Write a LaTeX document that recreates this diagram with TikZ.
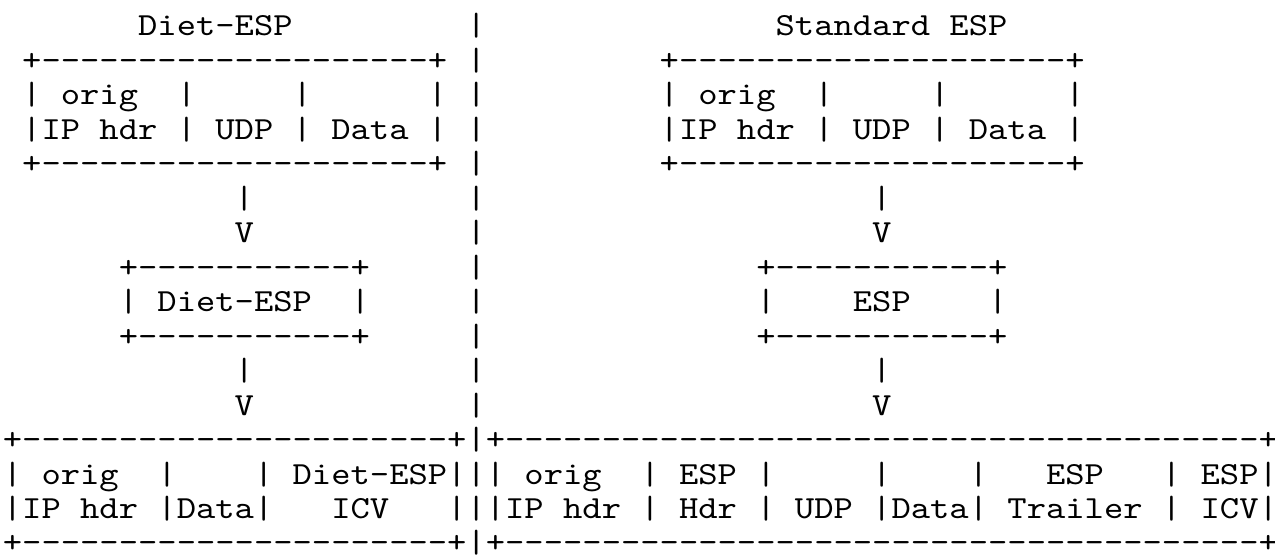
\documentclass[tikz,border=0pt]{standalone}
\usepackage{graphicx}
\ExplSyntaxOn
\cs_new:Npn \Rp #1#2 { \prg_replicate:nn {#1} {#2} }
\ExplSyntaxOff
\newcommand\Sp[1]{\Rp{#1}{~}}
\newcommand\Ds[1]{\Rp{#1}{-\kern0pt}}
\newcommand\Ln[1]{\scalebox{1.142857}[1]{#1}}
\tikzset{
  asciiline/.style={anchor=base west, inner sep=0pt, outer sep=0pt,
    font=\ttfamily\fontsize{10}{10.72}\selectfont, text=black}
}
\begin{document}
\begin{tikzpicture}
\useasboundingbox (0,0) rectangle (396pt,-172.07pt);
\fill[white] (0,0) rectangle (396pt,-172.07pt);
% row baselines: 11.03pt + (k-1)*10.72pt ; one character = 6pt
\node[asciiline] (r1)  at (0.9pt,-11.03pt)  {\Ln{\Sp{7}Diet\kern0pt-ESP\Sp{9}|\Sp{15}Standard~ESP}};
\node[asciiline] (r2)  at (0.9pt,-21.75pt)  {\Ln{~+\Ds{20}+~|\Sp{9}+\Ds{20}+}};
\node[asciiline] (r3)  at (0.9pt,-32.47pt)  {\Ln{~|~orig~~|\Sp{5}|\Sp{6}|~|\Sp{9}|~orig~~|\Sp{5}|\Sp{6}|}};
\node[asciiline] (r4)  at (0.9pt,-43.19pt)  {\Ln{~|IP~hdr~|~UDP~|~Data~|~|\Sp{9}|IP~hdr~|~UDP~|~Data~|}};
\node[asciiline] (r5)  at (0.9pt,-53.91pt)  {\Ln{~+\Ds{20}+~|\Sp{9}+\Ds{20}+}};
\node[asciiline] (r6)  at (0.9pt,-64.63pt)  {\Ln{\Sp{12}|\Sp{11}|\Sp{20}|}};
\node[asciiline] (r7)  at (0.9pt,-75.35pt)  {\Ln{\Sp{12}V\Sp{11}|\Sp{20}V}};
\node[asciiline] (r8)  at (0.9pt,-86.07pt)  {\Ln{\Sp{6}+\Ds{11}+\Sp{5}|\Sp{14}+\Ds{11}+}};
\node[asciiline] (r9)  at (0.9pt,-96.79pt)  {\Ln{\Sp{6}|~Diet\kern0pt-ESP~~|\Sp{5}|\Sp{14}|\Sp{4}ESP\Sp{4}|}};
\node[asciiline] (r10) at (0.9pt,-107.51pt) {\Ln{\Sp{6}+\Ds{11}+\Sp{5}|\Sp{14}+\Ds{11}+}};
\node[asciiline] (r11) at (0.9pt,-118.23pt) {\Ln{\Sp{12}|\Sp{11}|\Sp{20}|}};
\node[asciiline] (r12) at (0.9pt,-128.95pt) {\Ln{\Sp{12}V\Sp{11}|\Sp{20}V}};
\node[asciiline] (r13) at (0.9pt,-139.67pt) {\Ln{+\Ds{22}+|+\Ds{39}+}};
\node[asciiline] (r14) at (0.9pt,-150.39pt) {\Ln{|~orig~~|\Sp{4}|~Diet\kern0pt-ESP|||~orig~~|~ESP~|\Sp{5}|\Sp{4}|\Sp{3}ESP\Sp{3}|~ESP|}};
\node[asciiline] (r15) at (0.9pt,-161.11pt) {\Ln{|IP~hdr~|Data|\Sp{3}ICV\Sp{3}|||IP~hdr~|~Hdr~|~UDP~|Data|~Trailer~|~ICV|}};
\node[asciiline] (r16) at (0.9pt,-171.6pt)  {\Ln{+\Ds{22}+|+\Ds{39}+}};
\end{tikzpicture}
\end{document}
